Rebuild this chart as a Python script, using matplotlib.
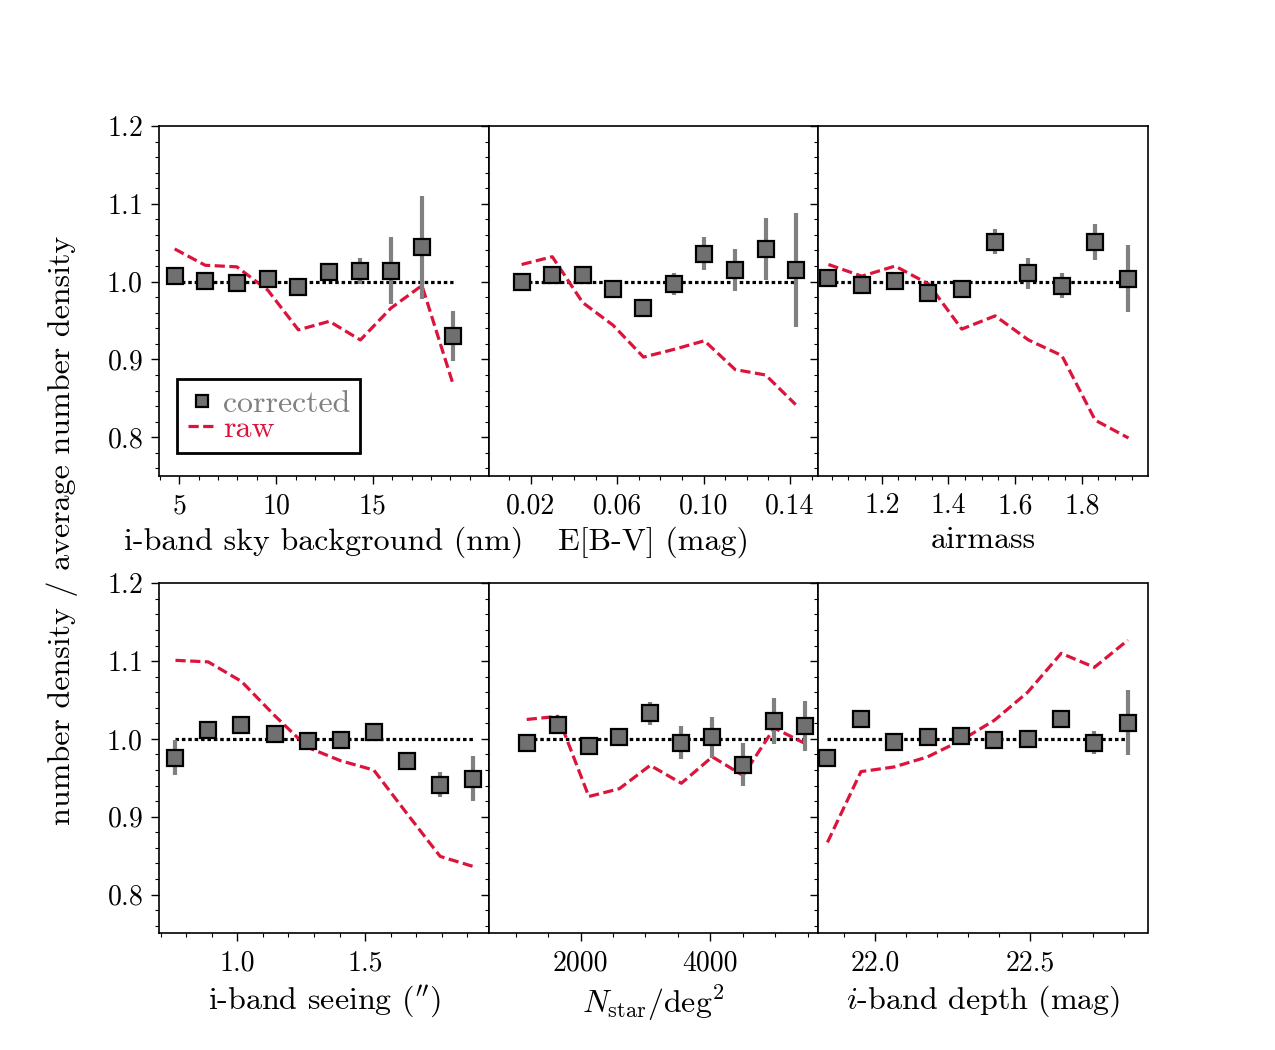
import numpy as np
import matplotlib.pyplot as plt
from matplotlib.lines import Line2D
from matplotlib.ticker import MultipleLocator

plt.rcParams['font.family'] = ['cmr10', 'DejaVu Serif']
plt.rcParams['mathtext.fontset'] = 'cm'
plt.rcParams['axes.formatter.use_mathtext'] = True

# i-band sky background
sky_x = [4.76, 6.34, 7.97, 9.57, 11.15, 12.75, 14.35, 15.93, 17.53, 19.14]
sky_corr = [1.007, 1.001, 0.998, 1.004, 0.993, 1.013, 1.014, 1.014, 1.044, 0.930]
sky_err = [0.004, 0.004, 0.004, 0.005, 0.005, 0.006, 0.017, 0.043, 0.066, 0.032]
sky_raw = [1.042, 1.021, 1.019, 0.989, 0.938, 0.949, 0.925, 0.966, 0.995, 0.868]

# E[B-V]
ebv_x = [0.0158, 0.0300, 0.0441, 0.0581, 0.0722, 0.0864, 0.1004, 0.1146, 0.1287, 0.1426]
ebv_corr = [1.000, 1.008, 1.008, 0.991, 0.966, 0.997, 1.036, 1.015, 1.042, 1.015]
ebv_err = [0.003, 0.004, 0.004, 0.005, 0.012, 0.014, 0.021, 0.027, 0.040, 0.073]
ebv_raw = [1.022, 1.032, 0.973, 0.944, 0.903, 0.913, 0.924, 0.887, 0.880, 0.842]

# airmass
am_x = [1.04, 1.14, 1.24, 1.34, 1.44, 1.54, 1.64, 1.74, 1.84, 1.94]
am_corr = [1.005, 0.996, 1.001, 0.985, 0.990, 1.051, 1.011, 0.995, 1.051, 1.004]
am_err = [0.003, 0.004, 0.004, 0.005, 0.007, 0.016, 0.020, 0.016, 0.023, 0.043]
am_raw = [1.022, 1.007, 1.020, 0.997, 0.939, 0.956, 0.925, 0.905, 0.822, 0.799]

# seeing
see_x = [0.758, 0.886, 1.016, 1.146, 1.276, 1.404, 1.534, 1.664, 1.794, 1.924]
see_corr = [0.976, 1.011, 1.018, 1.006, 0.997, 0.999, 1.009, 0.971, 0.941, 0.949]
see_err = [0.023, 0.004, 0.004, 0.004, 0.004, 0.004, 0.005, 0.007, 0.016, 0.029]
see_raw = [1.101, 1.099, 1.074, 1.030, 0.989, 0.972, 0.960, 0.904, 0.849, 0.836]

# stellar density
nst_x = [1170, 1651, 2127, 2597, 3073, 3553, 4029, 4504, 4984, 5460]
nst_corr = [0.995, 1.018, 0.991, 1.002, 1.033, 0.995, 1.002, 0.967, 1.023, 1.017]
nst_err = [0.004, 0.004, 0.005, 0.006, 0.015, 0.021, 0.026, 0.028, 0.029, 0.032]
nst_raw = [1.025, 1.029, 0.926, 0.936, 0.966, 0.943, 0.977, 0.953, 1.014, 0.994]

# depth
dep_x = [21.846, 21.954, 22.061, 22.169, 22.276, 22.384, 22.491, 22.599, 22.706, 22.814]
dep_corr = [0.976, 1.025, 0.996, 1.002, 1.004, 0.999, 1.000, 1.026, 0.995, 1.021]
dep_err = [0.004, 0.004, 0.004, 0.004, 0.004, 0.004, 0.005, 0.006, 0.015, 0.042]
dep_raw = [0.867, 0.958, 0.964, 0.977, 0.998, 1.024, 1.060, 1.110, 1.092, 1.127]

panels = [
    (sky_x, sky_corr, sky_err, sky_raw, 'i-band sky background (nm)', (3.97, 20.98), [5, 10, 15], 1),
    (ebv_x, ebv_corr, ebv_err, ebv_raw, 'E[B-V] (mag)', (0.0006, 0.153), [0.02, 0.06, 0.10, 0.14], 0.01),
    (am_x, am_corr, am_err, am_raw, 'airmass', (1.009, 1.997), [1.2, 1.4, 1.6, 1.8], 0.05),
    (see_x, see_corr, see_err, see_raw, "i-band seeing ($''$)", (0.695, 1.984), [1.0, 1.5], 0.1),
    (nst_x, nst_corr, nst_err, nst_raw, r'$N_{\rm star}/{\rm deg}^2$', (585, 5660), [2000, 4000], 500),
    (dep_x, dep_corr, dep_err, dep_raw, r'$i$-band depth (mag)', (21.816, 22.877), [22.0, 22.5], 0.1),
]
ticklabels = [['5', '10', '15'], ['0.02', '0.06', '0.10', '0.14'], ['1.2', '1.4', '1.6', '1.8'],
              ['1.0', '1.5'], ['2000', '4000'], ['22.0', '22.5']]

red = '#dc143c'
fig, axes = plt.subplots(2, 3, figsize=(12.75, 10.5), dpi=100)
plt.subplots_adjust(left=0.125, right=0.9, top=0.88, bottom=0.111, wspace=0, hspace=0.306)

for k, (ax, p) in enumerate(zip(axes.flat, panels)):
    x, corr, err, raw, label, xlim, ticks, minor = p
    ax.plot([x[0], x[-1]], [1, 1], color='black', lw=2.3, dashes=(1.1, 0.9), zorder=1)
    ax.errorbar(x, corr, yerr=err, fmt='s', ms=11, mfc='#707070', mec='black', mew=1.6,
                ecolor='#808080', elinewidth=3, capsize=0, zorder=3)
    ax.plot(x, raw, color=red, lw=2.3, dashes=(3.2, 1.4), zorder=2)
    ax.set_xlim(xlim)
    ax.set_ylim(0.75, 1.2)
    ax.set_xticks(ticks)
    ax.set_xticklabels(ticklabels[k])
    ax.xaxis.set_minor_locator(MultipleLocator(minor))
    ax.set_yticks([0.8, 0.9, 1.0, 1.1, 1.2])
    ax.yaxis.set_minor_locator(MultipleLocator(0.02))
    ax.tick_params(which='major', length=6, width=1, labelsize=20, pad=6)
    ax.tick_params(which='minor', length=3, width=0.8)
    ax.set_xlabel(label, fontsize=23, labelpad=5)
    if k % 3 != 0:
        ax.set_yticklabels([])
    for s in ax.spines.values():
        s.set_linewidth(1.2)

# legend handles: plain marker for corrected, dashed line for raw
h_corr = Line2D([], [], ls='none', marker='s', ms=9, mfc='#707070', mec='black', mew=1.6)
h_raw = Line2D([], [], color=red, lw=2.3, dashes=(3.2, 1.4))
leg = axes[0, 0].legend([h_corr, h_raw], ['corrected', 'raw'], loc='lower left',
                        bbox_to_anchor=(0.055, 0.065), fontsize=23,
                        fancybox=False, framealpha=1, edgecolor='black',
                        handlelength=0.9, handletextpad=0.2, borderpad=0.32,
                        borderaxespad=0, labelspacing=-0.1, numpoints=1)
leg.get_frame().set_linewidth(2)
leg.get_texts()[0].set_color('#808080')
leg.get_texts()[1].set_color(red)

fig.text(0.049, 0.495, 'number density / average number density', rotation=90,
         fontsize=23, ha='center', va='center')

plt.savefig('out.png')
